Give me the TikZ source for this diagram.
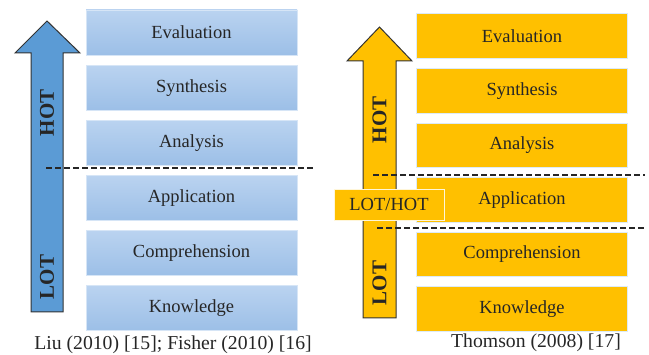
\documentclass[tikz,border=0pt]{standalone}
\usepackage{fontspec}
\setmainfont{Liberation Serif}
\usepackage{tikz}
\usetikzlibrary{positioning}

\definecolor{bluetop}{HTML}{BAD3F0}
\definecolor{bluebot}{HTML}{9CBFE7}
\definecolor{blueedge}{HTML}{D6E5F6}
\definecolor{bluearrow}{HTML}{5B9BD5}
\definecolor{gold}{HTML}{FFC000}
\definecolor{goldedge}{HTML}{DDEBF7}
\definecolor{ink}{HTML}{262626}

\begin{document}
\begin{tikzpicture}[x=1pt, y=-1pt, node distance=9.5pt, font=\rmfamily\fontsize{18.5}{20}\selectfont, text=ink,
	level/.style={rectangle, minimum width=211pt, minimum height=45pt, inner sep=0pt},
	bluelevel/.style={level, draw=blueedge, line width=0.6pt, top color=bluetop, bottom color=bluebot},
	goldlevel/.style={level, minimum height=44.5pt, draw=goldedge, line width=0.6pt, fill=gold},
	tag/.style={font=\rmfamily\fontsize{21}{21}\selectfont\bfseries, rotate=90},
	cut/.style={dash pattern=on 6pt off 3pt, line width=1.5pt, black!85}]
	\useasboundingbox (0,0) rectangle (649,355);

	% left: Liu / Fisher
	\draw [fill=bluearrow, draw=black!80, line width=1pt, line join=miter]
		(31,312) -- (31,53) -- (15,53) -- (47,21) -- (80,53) -- (63,53) -- (63,312) -- cycle;
	\node [bluelevel] (eval) at (191.5,32.5) {Evaluation};
	\node [bluelevel] (synth) [below=of eval] {Synthesis};
	\node [bluelevel] (anal) [below=of synth] {Analysis};
	\node [bluelevel] (appl) [below=of anal] {Application};
	\node [bluelevel] (comp) [below=of appl] {Comprehension};
	\node [bluelevel] (know) [below=of comp] {Knowledge};
	\node [tag] (hot) at (47,113) {HOT};
	\node [tag] (lot) at (47,277) {LOT};
	\coordinate (cutA) at (46,168);
	\coordinate (cutB) at (315,168);
	\draw [cut] (cutA) -- (cutB);
	\node [font=\rmfamily\fontsize{19.7}{20}\selectfont] (src) at (173,345) {Liu (2010) [15]; Fisher (2010) [16]};

	% right: Thomson
	\draw [fill=gold, draw=black!80, line width=1pt, line join=miter]
		(363,318) -- (363,61) -- (347,61) -- (379.5,27) -- (412,61) -- (396,61) -- (396,318) -- cycle;
	\node [goldlevel] (evalT) at (522,36) {Evaluation};
	\node [goldlevel] (synthT) [below=of evalT] {Synthesis};
	\node [goldlevel] (analT) [below=of synthT] {Analysis};
	\node [goldlevel] (applT) [below=of analT] {Application};
	\node [goldlevel] (compT) [below=of applT] {Comprehension};
	\node [goldlevel] (knowT) [below=of compT] {Knowledge};
	\node [tag] (hotT) at (379.5,120) {HOT};
	\node [tag] (lotT) at (379.5,283) {LOT};
	\coordinate (cutC) at (373,175);
	\coordinate (cutD) at (645,175);
	\coordinate (cutE) at (377,228);
	\coordinate (cutF) at (645,228);
	\draw [cut] (cutC) -- (cutD);
	\draw [cut] (cutE) -- (cutF);
	\node [rectangle, fill=gold, draw=white!85!gold, line width=0.8pt, minimum width=110pt, minimum height=31pt, inner sep=0pt] (mixed) at (389,204.5) {LOT/HOT};
	\node [font=\rmfamily\fontsize{19.7}{20}\selectfont] (srcT) at (536,343) {Thomson (2008) [17]};
\end{tikzpicture}
\end{document}
